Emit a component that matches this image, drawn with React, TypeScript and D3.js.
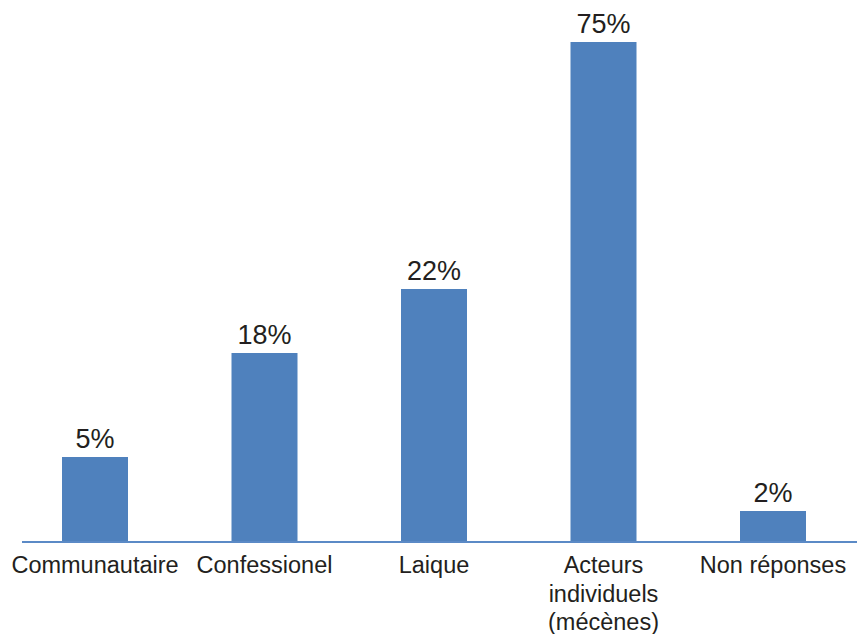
import * as d3 from "d3";

// categories as printed under the axis (line breaks as in the picture)
const categories = [
  ["Communautaire"],
  ["Confessionel"],
  ["Laique"],
  ["Acteurs", "individuels", "(mécènes)"],
  ["Non réponses"],
];
// the printed percentages
const labels = [5, 18, 22, 75, 2];
// bar lengths as drawn in the picture (same % units)
const barLengths = [12.75, 28.35, 37.95, 75, 4.65];

const width = 857;
const height = 634;
const barColor = "#4f81bd";
const textColor = "#231f20";

export default function App() {
  const x = d3
    .scalePoint<number>()
    .domain(d3.range(categories.length))
    .range([95, 773]);
  const barWidth = 66;

  const y = d3.scaleLinear().domain([0, 75]).range([542, 42]);

  return (
    <svg
      width={width}
      height={height}
      style={{ position: "absolute", left: 0, top: 0, background: "#fff" }}
      fontFamily="'Liberation Sans', Arial, Helvetica, sans-serif"
    >
      {barLengths.map((v, i) => (
        <rect
          key={"b" + i}
          x={x(i)! - barWidth / 2}
          y={y(v)}
          width={barWidth}
          height={y(0) - y(v)}
          fill={barColor}
        />
      ))}
      <line x1={22} x2={width} y1={y(0)} y2={y(0)} stroke="#5b8ac6" strokeWidth={2} />
      {labels.map((v, i) => (
        <text
          key={"v" + i}
          x={x(i)}
          y={y(barLengths[i]) - 9}
          textAnchor="middle"
          fontSize={27}
          fill={textColor}
        >
          {v}%
        </text>
      ))}
      {categories.map((lines, i) => (
        <text
          key={"c" + i}
          x={x(i)}
          y={573}
          textAnchor="middle"
          fontSize={23.5}
          fill={textColor}
        >
          {lines.map((l, j) => (
            <tspan key={j} x={x(i)} dy={j === 0 ? 0 : 28.5}>
              {l}
            </tspan>
          ))}
        </text>
      ))}
    </svg>
  );
}
